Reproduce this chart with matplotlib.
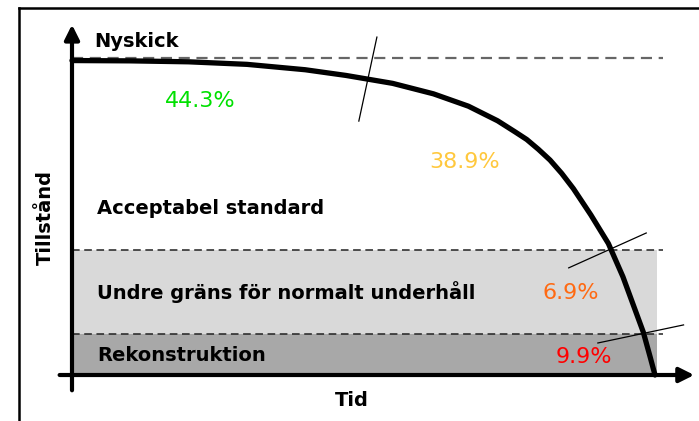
import numpy as np
import matplotlib.pyplot as plt

# condition curve over time (time 0..100, condition 0..100 where 100 = Nyskick)
time = [0, 10, 20, 30, 40, 47, 55, 62, 68, 73, 76, 78, 80, 82, 84,
        86, 89, 92, 94.5, 96.5, 98, 99.2, 100]
condition = [99.2, 99.1, 98.8, 98.0, 96.3, 94.5, 92.0, 88.7, 84.8, 80.2, 76.7, 74.3, 71.2, 67.8, 63.6,
             58.8, 50.5, 41.5, 31.0, 21.0, 13.5, 5.5, 0]

# level boundaries
level_new = 100
level_accept = 39.4
level_recon = 12.9

zone_labels = ["Acceptabel standard", "Undre gräns för normalt underhåll", "Rekonstruktion"]
zone_label_y = [52.4, 26.2, 6.3]

pct_labels = ["44.3%", "38.9%", "6.9%", "9.9%"]
pct_colors = ["#00e000", "#ffc83d", "#ff6a13", "#ff0000"]
pct_x = [22.0, 67.4, 85.6, 87.8]
pct_y = [86.4, 67.2, 25.8, 5.7]

# short marks crossing the curve
marks = [
    ((52.3, 106.6), (49.2, 80.1)),
    ((85.2, 33.8), (98.5, 44.8)),
    ((90.2, 10.1), (104.9, 15.8)),
]

fig = plt.figure(figsize=(6.99, 4.21), dpi=100)
ax = fig.add_axes([0, 0, 1, 1])
ax.set_xlim(-12.35, 107.55)
ax.set_ylim(-14.51, 118.3)
ax.axis("off")

# outer frame (top and left edges visible)
ax.plot([-9.09, 107.55], [115.8, 115.8], color="black", lw=1.8, clip_on=False)
ax.plot([-9.09, -9.09], [115.8, -14.51], color="black", lw=1.8, clip_on=False)

# grey zones
ax.fill_between([0, 100.3], level_recon, level_accept, color="#d9d9d9", lw=0)
ax.fill_between([0, 100.3], 0, level_recon, color="#a8a8a8", lw=0)

# dashed levels
ax.plot([0, 101.4], [level_new, level_new], color="#666666", lw=1.6, ls=(0, (5, 3)))
ax.plot([0, 101.4], [level_accept, level_accept], color="#222222", lw=1.1, ls=(0, (5, 3)))
ax.plot([0, 101.4], [level_recon, level_recon], color="#222222", lw=1.1, ls=(0, (5, 3)))

# curve
ax.plot(time, condition, color="black", lw=3.8, solid_capstyle="round",
        solid_joinstyle="round")

for (x0, y0), (x1, y1) in marks:
    ax.plot([x0, x1], [y0, y1], color="black", lw=0.9)

# axes arrows
ax.annotate("", xy=(0, 111.4), xytext=(0, -5.7),
            arrowprops=dict(arrowstyle="-|>", lw=3, color="black", mutation_scale=22))
ax.annotate("", xy=(107.2, 0), xytext=(-2.6, 0),
            arrowprops=dict(arrowstyle="-|>", lw=3, color="black", mutation_scale=22))

font = "DejaVu Sans"
ax.text(3.9, 105.3, "Nyskick", fontsize=14, fontweight="bold", family=font, va="center")
for label, y in zip(zone_labels, zone_label_y):
    ax.text(4.3, y, label, fontsize=14, fontweight="bold", family=font, va="center")

for label, c, x, y in zip(pct_labels, pct_colors, pct_x, pct_y):
    ax.text(x, y, label, fontsize=16, color=c, family=font, ha="center", va="center")

ax.text(48.0, -7.9, "Tid", fontsize=14, fontweight="bold", family=font, ha="center", va="center")
ax.text(-4.6, 49.8, "Tillstånd", fontsize=14, fontweight="bold", family=font,
        rotation=90, ha="center", va="center")

fig.savefig("out.png", dpi=100)
